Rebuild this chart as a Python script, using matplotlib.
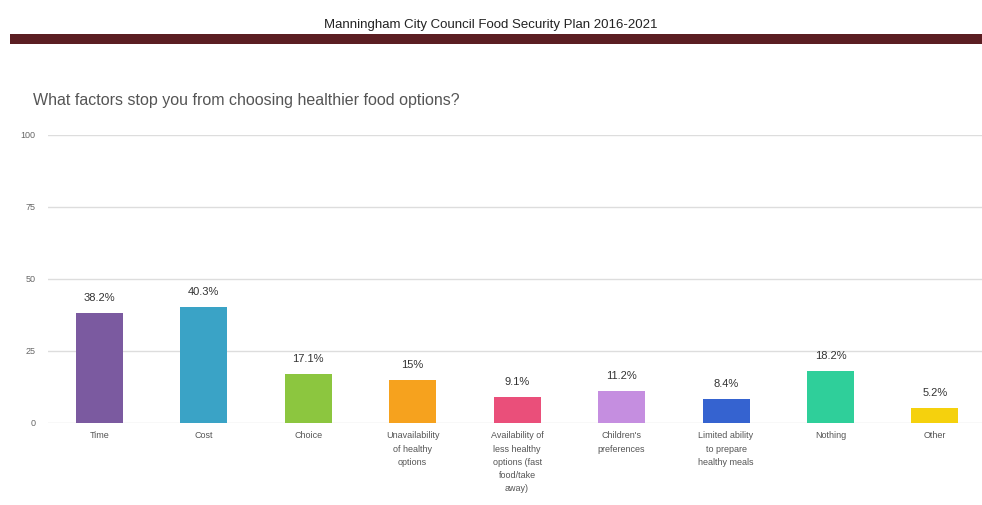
import numpy as np
import matplotlib
matplotlib.use("Agg")
import matplotlib.pyplot as plt

plt.rcParams['font.family'] = ['Liberation Sans', 'DejaVu Sans']

# survey results (% of respondents)
categories = ["Time", "Cost", "Choice", "Unavailability\nof healthy\noptions",
              "Availability of\nless healthy\noptions (fast\nfood/take\naway)",
              "Children's\npreferences", "Limited ability\nto prepare\nhealthy meals",
              "Nothing", "Other"]
values = [38.2, 40.3, 17.1, 15, 9.1, 11.2, 8.4, 18.2, 5.2]
value_labels = ["38.2%", "40.3%", "17.1%", "15%", "9.1%", "11.2%", "8.4%", "18.2%", "5.2%"]
bar_colors = ["#7b5aa0", "#3aa3c6", "#8cc63f", "#f6a21e", "#ea4f7a",
              "#c58ee0", "#3563d0", "#2fcf9a", "#f5d10d"]
yticks = [0, 25, 50, 75, 100]

fig = plt.figure(figsize=(9.82, 5.05), dpi=100)

# page header
fig.text(0.5, 1 - 25/505, "Manningham City Council Food Security Plan 2016-2021",
         ha="center", va="center", fontsize=9.5, color="#222222")
fig.add_artist(plt.Rectangle((10/982, 1 - 44/505), 1, 10/505,
                             transform=fig.transFigure, color="#5b1e22", lw=0))

fig.text(33/982, 1 - 101/505, "What factors stop you from choosing healthier food options?",
         ha="left", va="center", fontsize=11.5, color="#555555")

ax = fig.add_axes([48/982, 1 - 423/505, 1 - 48/982, 288/505])
x = np.arange(len(values))
ax.bar(x, values, width=0.45, color=bar_colors, zorder=3)
for xi, v, lab in zip(x, values, value_labels):
    ax.text(xi, v + 3.5, lab, ha="center", va="bottom", fontsize=8, color="#333333")

ax.set_xlim(-0.49, len(values) - 0.55)
ax.set_ylim(0, 100)
ax.set_yticks(yticks)
ax.set_yticklabels([str(t) for t in yticks], fontsize=6.5, color="#666666")
ax.set_xticks(x)
ax.set_xticklabels(categories, fontsize=6.5, color="#555555", linespacing=1.6, va="top")
ax.tick_params(axis="both", length=0, pad=6)
ax.tick_params(axis="y", pad=9)
ax.grid(axis="y", color="#dddddd", lw=1, zorder=0)
for s in ax.spines.values():
    s.set_visible(False)

fig.savefig("out.png", dpi=100)
